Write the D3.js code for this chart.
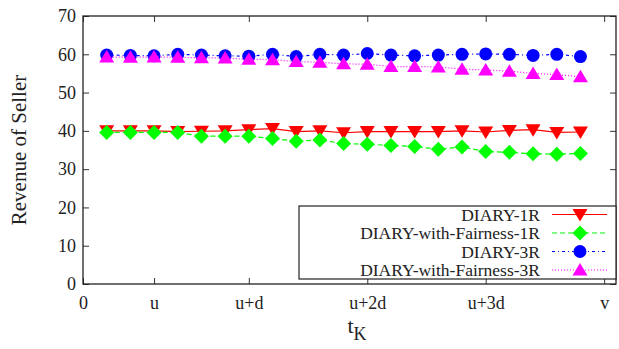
<!DOCTYPE html>
<html>
<head>
<meta charset="utf-8">
<script src="https://cdn.jsdelivr.net/npm/d3@7"></script>
<style>
  body { margin: 0; background: #fff; }
  text { font-family: "Liberation Serif", "Times New Roman", serif; fill: #222; }
</style>
</head>
<body>
<script>
// tick positions and labels on the t_K axis
var xTicks = [0, 3, 7, 12, 17, 22];
var xTickLabels = ["0", "u", "u+d", "u+2d", "u+3d", "v"];
var yTicks = [0, 10, 20, 30, 40, 50, 60, 70];

// sample positions (1..21)
var xs = d3.range(1, 22);

var diary1R = [40.0, 40.0, 40.0, 39.8, 39.9, 40.0, 40.3, 40.6, 39.8, 40.0, 39.5,
  39.8, 39.8, 39.8, 39.8, 40.0, 39.7, 40.1, 40.3, 39.6, 39.7];
var fair1R = [39.6, 39.6, 39.6, 39.6, 38.6, 38.6, 38.6, 38.0, 37.3, 37.6, 36.7,
  36.5, 36.2, 35.9, 35.2, 35.8, 34.6, 34.4, 34.0, 33.9, 34.1];
var diary3R = [59.8, 59.7, 59.6, 60.0, 59.8, 59.6, 59.5, 60.0, 59.4, 60.0, 59.8,
  60.2, 59.8, 59.6, 59.8, 60.0, 60.1, 60.0, 59.7, 60.0, 59.4];
var fair3R = [59.3, 59.2, 59.3, 59.2, 59.1, 59.0, 58.7, 58.6, 58.1, 57.9, 57.5,
  57.4, 56.8, 56.8, 56.7, 56.1, 55.9, 55.6, 55.0, 54.7, 54.1];

var series = [
  { name: "DIARY-1R", values: diary1R, color: "#ff0000", dash: null, symbol: "down" },
  { name: "DIARY-with-Fairness-1R", values: fair1R, color: "#00ff00", dash: "5,3", symbol: "diamond" },
  { name: "DIARY-3R", values: diary3R, color: "#0000ff", dash: "3,3,1,3", symbol: "circle" },
  { name: "DIARY-with-Fairness-3R", values: fair3R, color: "#ff00ff", dash: "1,2", symbol: "up" }
];

var width = 619, height = 349;
var margin = { top: 16, right: 3, bottom: 65, left: 83 };
var w = width - margin.left - margin.right,
  h = height - margin.top - margin.bottom;

var svg = d3.select("body").append("svg")
  .attr("width", width)
  .attr("height", height);

var g = svg.append("g")
  .attr("transform", "translate(" + margin.left + "," + margin.top + ")");

var x = d3.scaleLinear().domain([0, 22.5]).range([0, w]);
var y = d3.scaleLinear().domain([0, 70]).range([h, 0]);

// axes with inward ticks
var xAxis = d3.axisBottom(x).tickValues(xTicks)
  .tickFormat(function (d, i) { return xTickLabels[i]; })
  .tickSizeInner(-6).tickSizeOuter(0).tickPadding(12);
var yAxis = d3.axisLeft(y).tickValues(yTicks)
  .tickSizeInner(-6).tickSizeOuter(0).tickPadding(14);

var gx = g.append("g").attr("transform", "translate(0," + h + ")").call(xAxis);
var gy = g.append("g").call(yAxis);
// mirror ticks
g.append("g").call(d3.axisTop(x).tickValues(xTicks).tickFormat("").tickSizeInner(-6).tickSizeOuter(0));
g.append("g").attr("transform", "translate(" + w + ",0)")
  .call(d3.axisRight(y).tickValues(yTicks).tickFormat("").tickSizeInner(-6).tickSizeOuter(0));

g.selectAll(".domain").remove();
g.selectAll(".tick line").attr("stroke", "#333");
gx.selectAll("text").style("font-size", "18px").attr("fill", "#222");
gy.selectAll("text").style("font-size", "18px").attr("fill", "#222");
gy.selectAll(".tick text").attr("x", -7);

g.append("rect")
  .attr("width", w).attr("height", h)
  .attr("fill", "none").attr("stroke", "#222").attr("stroke-width", 1.3);

// symbol drawing
function drawSymbol(sel, type, color) {
  if (type === "circle") {
    sel.append("circle").attr("r", 6.5).attr("fill", color);
  } else if (type === "diamond") {
    sel.append("path").attr("d", "M0,-7.5L7.5,0L0,7.5L-7.5,0Z").attr("fill", color);
  } else if (type === "down") {
    sel.append("path").attr("d", "M-7.5,-5.5L7.5,-5.5L0,7Z").attr("fill", color);
  } else {
    sel.append("path").attr("d", "M-7.5,5.5L7.5,5.5L0,-7Z").attr("fill", color);
  }
}

var line = d3.line()
  .x(function (d) { return x(d[0]); })
  .y(function (d) { return y(d[1]); });

series.forEach(function (s) {
  var pts = xs.map(function (xv, i) { return [xv, s.values[i]]; });
  g.append("path")
    .datum(pts)
    .attr("d", line)
    .attr("fill", "none")
    .attr("stroke", s.color)
    .attr("stroke-width", 1.2)
    .attr("stroke-dasharray", s.dash);
  g.selectAll(null)
    .data(pts)
    .enter().append("g")
    .attr("transform", function (d) { return "translate(" + x(d[0]) + "," + y(d[1]) + ")"; })
    .each(function () { drawSymbol(d3.select(this), s.symbol, s.color); });
});

// legend
var legend = g.append("g").attr("transform", "translate(" + (299 - margin.left) + "," + (206 - margin.top) + ")");
legend.append("rect")
  .attr("width", w - (299 - margin.left)).attr("height", 73)
  .attr("fill", "#fff").attr("stroke", "#222").attr("stroke-width", 1.2);

series.forEach(function (s, i) {
  var row = legend.append("g").attr("transform", "translate(0," + (8.5 + i * 18.5) + ")");
  row.append("text")
    .attr("x", 241).attr("y", 0).attr("dy", "0.35em")
    .attr("text-anchor", "end")
    .style("font-size", "17.5px")
    .text(s.name);
  row.append("line")
    .attr("x1", 253).attr("x2", 308)
    .attr("stroke", s.color).attr("stroke-width", 1.2)
    .attr("stroke-dasharray", s.dash);
  var m = row.append("g").attr("transform", "translate(281,0)");
  drawSymbol(m, s.symbol, s.color);
});

// axis titles
svg.append("text")
  .attr("transform", "translate(26," + (margin.top + h / 2) + ") rotate(-90)")
  .attr("text-anchor", "middle")
  .style("font-size", "21px")
  .text("Revenue of Seller");

var xt = svg.append("text")
  .attr("x", 357).attr("y", 333)
  .attr("text-anchor", "middle")
  .style("font-size", "22px");
xt.append("tspan").text("t");
xt.append("tspan").attr("dy", 7).style("font-size", "18px").text("K");
</script>
</body>
</html>
